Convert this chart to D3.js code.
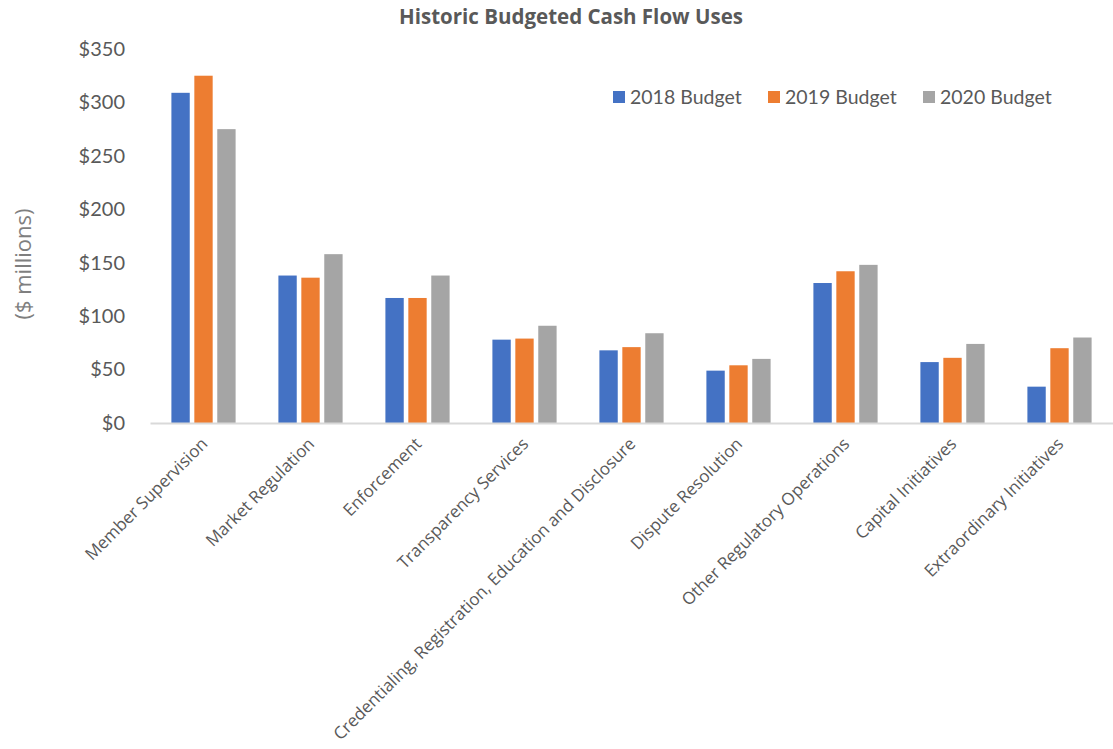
<!DOCTYPE html>
<html>
<head>
<meta charset="utf-8">
<script src="https://cdn.jsdelivr.net/npm/d3@7"></script>
<style>
  body { margin: 0; background: #fff; }
  svg { display: block; }
</style>
</head>
<body>
<svg id="chart"></svg>
<script>
// chart values
var categories = ["Member Supervision", "Market Regulation", "Enforcement", "Transparency Services",
  "Credentialing, Registration, Education and Disclosure", "Dispute Resolution",
  "Other Regulatory Operations", "Capital Initiatives", "Extraordinary Initiatives"]
var seriesNames = ["2018 Budget", "2019 Budget", "2020 Budget"]
var budget2018 = [309, 138, 117, 78, 68, 49, 131, 57, 34]
var budget2019 = [325, 136, 117, 79, 71, 54, 142, 61, 70]
var budget2020 = [275, 158, 138, 91, 84, 60, 148, 74, 80]
var yTicks = [0, 50, 100, 150, 200, 250, 300, 350]
var colors = ["#4472C4", "#ED7D31", "#A5A5A5"]

var W = 1113, H = 749
var svg = d3.select('#chart').attr("width", W).attr("height", H)

var plotLeft = 150, plotRight = 1113, plotTop = 49, plotBottom = 423
var values = [budget2018, budget2019, budget2020]

var x = d3.scaleBand().domain(categories).range([plotLeft, plotRight])
  .paddingInner(0.4).paddingOuter(0.2)
var xs = d3.scaleBand().domain(seriesNames).range([0, x.bandwidth()]).paddingInner(0.2)
var y = d3.scaleLinear().domain([0, 350]).range([plotBottom, plotTop])

// title
svg.append("text")
  .attr("x", 571).attr("y", 24)
  .attr("text-anchor", "middle")
  .attr("font-family", "Open Sans, sans-serif")
  .attr("font-weight", "bold")
  .attr("font-size", 20.5)
  .attr("fill", "#595959")
  .text("Historic Budgeted Cash Flow Uses")

// y axis labels
var yAxis = d3.axisLeft(y).tickValues(yTicks).tickSize(0).tickPadding(0)
  .tickFormat(function(d){ return "$" + d })
var ya = svg.append("g").attr("transform", "translate(125,0)").call(yAxis)
ya.select(".domain").remove()
ya.selectAll("text")
  .attr("font-family", "Lato, sans-serif")
  .attr("font-size", 20)
  .attr("fill", "#595959")

// y title
svg.append("text")
  .attr("transform", "translate(31,264) rotate(-90)")
  .attr("text-anchor", "middle")
  .attr("font-family", "Open Sans, sans-serif")
  .attr("font-size", 22)
  .attr("fill", "#7f7f7f")
  .text("($ millions)")

// bars
var groups = svg.selectAll(".grp").data(categories).enter()
  .append("g").attr("class", "grp")
  .attr("transform", function(d){ return "translate(" + x(d) + ",0)" })

groups.selectAll("rect")
  .data(function(d, i){
    return seriesNames.map(function(s, j){ return {s: s, v: values[j][i], c: colors[j]} })
  })
  .enter().append("rect")
  .attr("x", function(d){ return xs(d.s) })
  .attr("width", xs.bandwidth())
  .attr("y", function(d){ return y(d.v) })
  .attr("height", function(d){ return y(0) - y(d.v) })
  .attr("fill", function(d){ return d.c })

// x axis line + labels
var xAxis = d3.axisBottom(x).tickSize(0).tickPadding(0)
var xa = svg.append("g").attr("transform", "translate(0," + plotBottom + ")").call(xAxis)
xa.select(".domain").attr("stroke", "#d9d9d9").attr("stroke-width", 2)
xa.selectAll("text")
  .attr("font-family", "Open Sans, sans-serif")
  .attr("font-size", 17)
  .attr("fill", "#595959")
  .attr("text-anchor", "end")
  .attr("dy", 0)
  .attr("transform", "translate(5,22) rotate(-45)")

// legend
var legX = [613, 768, 923]
var leg = svg.selectAll(".leg").data(seriesNames).enter()
  .append("g").attr("class", "leg")
  .attr("transform", function(d, i){ return "translate(" + legX[i] + ",91)" })
leg.append("rect").attr("width", 12).attr("height", 12)
  .attr("fill", function(d, i){ return colors[i] })
leg.append("text").attr("x", 17).attr("y", 13)
  .attr("font-family", "Lato, sans-serif")
  .attr("font-size", 19.5)
  .attr("fill", "#595959")
  .text(function(d){ return d })
</script>
</body>
</html>
